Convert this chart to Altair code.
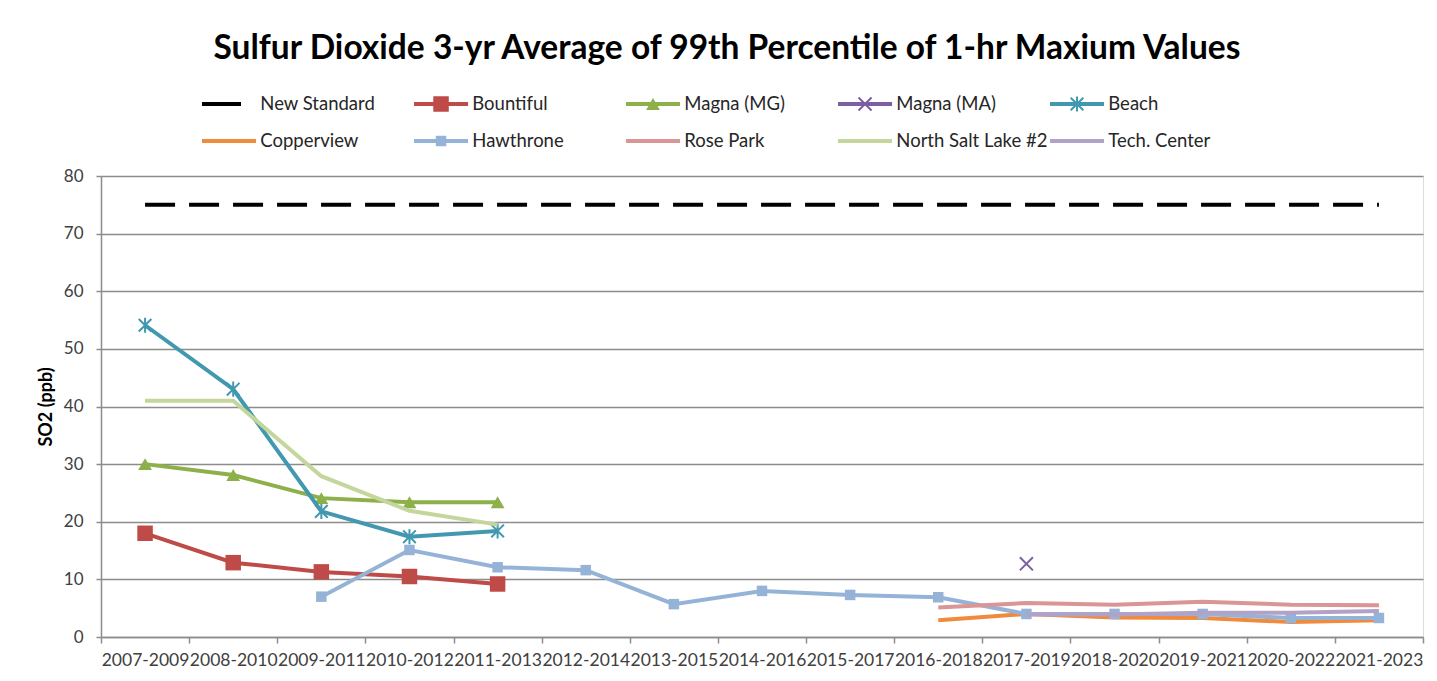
import altair as alt
import pandas as pd

# ---------------- data ----------------
cats = ["2007-2009", "2008-2010", "2009-2011", "2010-2012", "2011-2013",
        "2012-2014", "2013-2015", "2014-2016", "2015-2017", "2016-2018",
        "2017-2019", "2018-2020", "2019-2021", "2020-2022", "2021-2023"]

new_standard = [75, 75, 75, 75, 75, 75, 75, 75, 75, 75, 75, 75, 75, 75, 75]
bountiful = [18.0, 12.9, 11.3, 10.5, 9.2, None, None, None, None, None, None, None, None, None, None]
magna_mg = [30.0, 28.1, 24.1, 23.4, 23.4, None, None, None, None, None, None, None, None, None, None]
magna_ma = [None, None, None, None, None, None, None, None, None, None, 12.7, None, None, None, None]
beach = [54.1, 43.0, 21.8, 17.4, 18.4, None, None, None, None, None, None, None, None, None, None]
copperview = [None, None, None, None, None, None, None, None, None, 2.9, 4.0, 3.4, 3.3, 2.6, 2.9]
hawthorne = [None, None, 7.0, 15.1, 12.1, 11.6, 5.7, 8.0, 7.3, 6.9, 4.0, 4.0, 4.0, 3.3, 3.3]
rose_park = [None, None, None, None, None, None, None, None, None, 5.1, 5.9, 5.6, 6.1, 5.6, 5.5]
nsl2 = [41.0, 41.0, 27.9, 21.9, 19.5, None, None, None, None, None, None, None, None, None, None]
tech_center = [None, None, None, None, None, None, None, None, None, None, 3.9, 3.9, 4.2, 4.2, 4.5]

series_names = ["New Standard", "Bountiful", "Magna (MG)", "Magna (MA)", "Beach",
                "Copperview", "Hawthrone", "Rose Park", "North Salt Lake #2", "Tech. Center"]
series_values = [new_standard, bountiful, magna_mg, magna_ma, beach,
                 copperview, hawthorne, rose_park, nsl2, tech_center]

# ---------------- styles ----------------
colors = {
    "New Standard": "#000000",
    "Bountiful": "#BE4B48",
    "Magna (MG)": "#8DB04A",
    "Magna (MA)": "#7D60A0",
    "Beach": "#4198AF",
    "Copperview": "#F08A3C",
    "Hawthrone": "#95B3D7",
    "Rose Park": "#D99694",
    "North Salt Lake #2": "#C3D69B",
    "Tech. Center": "#B3A2C7",
}
X_SHAPE = "M-1,-1L1,1M-1,1L1,-1"
STAR_SHAPE = "M-1,-1L1,1M-1,1L1,-1M0,-1.2L0,1.2"
markers = {
    "Bountiful": dict(shape="square", size=240, filled=True),
    "Magna (MG)": dict(shape="triangle-up", size=190, filled=True),
    "Magna (MA)": dict(shape=X_SHAPE, size=170, filled=False, strokeWidth=2),
    "Beach": dict(shape=STAR_SHAPE, size=160, filled=False, strokeWidth=2),
    "Hawthrone": dict(shape="square", size=110, filled=True),
}
FONT = "Lato"
AXIS_GRAY = "#8c8c8c"

x_scale = alt.Scale(domain=cats, paddingInner=0, paddingOuter=0)
y_scale = alt.Scale(domain=[0, 80], nice=False)
x_axis = alt.Axis(title=None, labelAngle=0, labelOverlap=False, labelFlush=False,
                  tickBand="extent", tickSize=6, tickColor=AXIS_GRAY, tickWidth=1.5,
                  domainColor=AXIS_GRAY, domainWidth=1.5, grid=False,
                  labelFont=FONT, labelFontSize=17.5, labelColor="#404040",
                  labelPadding=8)
y_axis = alt.Axis(title="SO2 (ppb)", values=[0, 10, 20, 30, 40, 50, 60, 70, 80],
                  tickSize=5, tickColor=AXIS_GRAY, tickWidth=1.5,
                  domainColor=AXIS_GRAY, domainWidth=1.5,
                  gridColor=AXIS_GRAY, gridWidth=1.5,
                  labelFont=FONT, labelFontSize=17, labelColor="#404040",
                  labelPadding=13, titleFont=FONT, titleFontSize=18,
                  titleFontWeight="bold", titleColor="#000000", titlePadding=8)


def xe():
    return alt.X("cat:N", scale=x_scale, axis=x_axis, sort=cats)


def ye():
    return alt.Y("val:Q", scale=y_scale, axis=y_axis)


main_layers = []
for name, vals in zip(series_names, series_values):
    df = pd.DataFrame({"cat": cats, "val": vals}).dropna()
    base = alt.Chart(df)
    if name == "New Standard":
        main_layers.append(base.mark_line(color="black", strokeWidth=4,
                                          strokeDash=[30, 14]).encode(x=xe(), y=ye()))
        continue
    if len(df) > 1:
        main_layers.append(base.mark_line(color=colors[name], strokeWidth=4).encode(x=xe(), y=ye()))
    if name in markers:
        m = markers[name]
        main_layers.append(base.mark_point(color=colors[name], opacity=1, **m).encode(x=xe(), y=ye()))

main = alt.layer(*main_layers)

# ---------------- legend (drawn above plot area) ----------------
leg = pd.DataFrame({"name": series_names})
leg["col"] = [i % 5 for i in range(len(series_names))]
leg["row"] = [i // 5 for i in range(len(series_names))]
LINE_LEN = 0.255
TEXT_OFF = 0.275
leg["x1"] = leg["col"]
leg["x2"] = leg["col"] + [0.184 if n == "New Standard" else LINE_LEN for n in leg["name"]]
leg["xm"] = leg["col"] + LINE_LEN / 2
leg["xt"] = leg["col"] + TEXT_OFF

lx_scale = alt.Scale(domain=[0, 1], range=[101, 313])
ly_scale = alt.Scale(domain=[0, 1], range=[-72, -35])
color_scale = alt.Scale(domain=series_names, range=[colors[n] for n in series_names])

lbase = alt.Chart(leg)
leg_layers = [
    lbase.mark_rule(strokeWidth=4).encode(
        x=alt.X("x1:Q", scale=lx_scale, axis=None), x2="x2:Q",
        y=alt.Y("row:Q", scale=ly_scale, axis=None),
        color=alt.Color("name:N", scale=color_scale, legend=None)),
    lbase.mark_text(align="left", baseline="middle", font=FONT, fontSize=18.5,
                    color="#262626").encode(
        x=alt.X("xt:Q", scale=lx_scale, axis=None),
        y=alt.Y("row:Q", scale=ly_scale, axis=None),
        text="name:N"),
]
for name, m in markers.items():
    leg_layers.append(
        lbase.transform_filter(alt.datum.name == name).mark_point(
            color=colors[name], opacity=1, **m).encode(
            x=alt.X("xm:Q", scale=lx_scale, axis=None),
            y=alt.Y("row:Q", scale=ly_scale, axis=None)))
legend_layer = alt.layer(*leg_layers)

chart = alt.layer(main, legend_layer).resolve_scale(
    x="independent", y="independent", color="independent"
).properties(
    width=1322, height=461,
    title=alt.TitleParams(
        "Sulfur Dioxide 3-yr Average of 99th Percentile of 1-hr Maxium Values",
        font=FONT, fontSize=33.5, fontWeight="bold", color="#000000",
        anchor="middle", offset=26, dx=-35),
    padding={"left": 37, "top": 31, "right": 10, "bottom": 5},
).configure_view(stroke=AXIS_GRAY, strokeWidth=1.5).configure(background="white")

chart.save("out.html", embed_options={"renderer": "svg", "actions": False})
